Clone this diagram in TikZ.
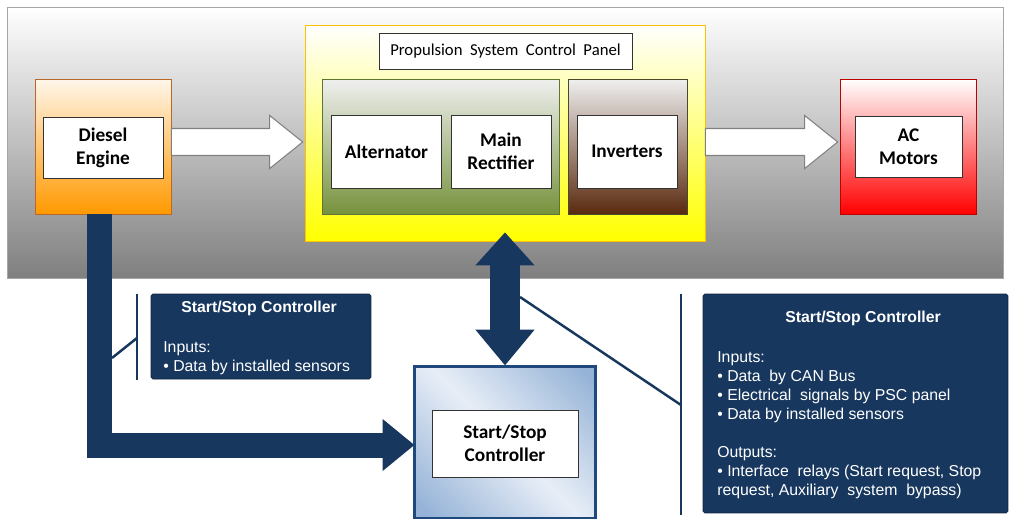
\documentclass[tikz,border=0pt]{standalone}
\usepackage{fontspec}
\setmainfont{Carlito}
\newfontfamily\notefont{Liberation Sans}
\usetikzlibrary{arrows.meta}
\usetikzlibrary{calc}

\definecolor{navy}{HTML}{17375E}
\definecolor{navyline}{HTML}{10263F}
\definecolor{ctrlborder}{HTML}{1F497D}
\definecolor{ctrldark}{HTML}{95B3D7}
\definecolor{ctrllight}{HTML}{E8EEF7}
\definecolor{orangebot}{HTML}{FF9900}
\definecolor{orangetop}{HTML}{FFF6EA}
\definecolor{orangeline}{HTML}{B8692A}
\definecolor{greenbot}{HTML}{76923C}
\definecolor{greenline}{HTML}{5E7432}
\definecolor{brownbot}{HTML}{5A2A0F}
\definecolor{brownline}{HTML}{4A4A2A}
\definecolor{panelline}{HTML}{FFC000}

\pgfdeclarehorizontalshading{ctrlshade}{100bp}{color(0bp)=(ctrldark); color(18bp)=(ctrldark); color(50bp)=(ctrllight); color(82bp)=(ctrldark); color(100bp)=(ctrldark)}

\begin{document}
\begin{tikzpicture}[x=0.02cm,y=-0.02cm,
  boxlabel/.style={draw=black!80,fill=white,inner sep=0pt,align=center,font=\bfseries\fontsize{11}{13}\selectfont},
  unitbox/.style={inner sep=0pt,minimum width=#1},
  bigarrow/.style={draw=black!50,fill=white,line width=0.6pt,
    to path={($(\tikztostart)+(0,-13.5)$) -- ($(\tikztotarget)+(-33,-13.5)$) -- ($(\tikztotarget)+(-33,-26.5)$) -- (\tikztotarget) -- ($(\tikztotarget)+(-33,26.5)$) -- ($(\tikztotarget)+(-33,13.5)$) -- ($(\tikztostart)+(0,13.5)$) -- cycle}},
  navyarrow/.style={draw=navy,line join=miter},
  notebracket/.style={draw=navy,line width=1.4pt},
  notebox/.style={draw=navyline,fill=navy,rounded corners=1pt,inner sep=0pt},
  notetitle/.style={text=white,inner sep=0pt,font=\notefont\bfseries\fontsize{9}{10.8}\selectfont},
  notebody/.style={text=white,align=left,inner sep=0pt,font=\notefont\fontsize{9}{10.8}\selectfont}]

\useasboundingbox (0,0) rectangle (1009,522);

% background
\node[inner sep=0pt,minimum width=19.92cm,minimum height=5.42cm,draw=black!35,top color=white,bottom color=black!50] (bg) at (505,142.5) {};

% engine
\node[unitbox=2.72cm,minimum height=2.70cm,draw=orangeline,top color=orangetop,bottom color=orangebot] (diesel) at (103,146.5) {};
\node[boxlabel,minimum width=2.40cm,minimum height=1.22cm] (dieselin) at (103,147.5) {Diesel\\Engine};

% control panel
\node[unitbox=8.0cm,minimum height=4.32cm,draw=panelline,top color=white,bottom color=yellow] (panel) at (505,133) {};
\node[draw=black!80,fill=white,inner sep=0pt,minimum width=5.06cm,minimum height=0.72cm,font=\fontsize{9.5}{11}\selectfont] (ptitle) at (505.5,51) {Propulsion\ \ System\ \ Control\ \ Panel};

\node[unitbox=4.74cm,minimum height=2.70cm,draw=greenline,top color=white!94!black,bottom color=greenbot] (gen) at (441,146.5) {};
\node[boxlabel,minimum width=2.20cm,minimum height=1.46cm] (alt) at (386.5,151.5) {Alternator};
\node[boxlabel,minimum width=2.00cm,minimum height=1.46cm] (rect) at (501,151.5) {Main\\Rectifier};

\node[unitbox=2.38cm,minimum height=2.70cm,draw=brownline,top color=white!94!black,bottom color=brownbot] (invgrp) at (627.5,146.5) {};
\node[boxlabel,minimum width=2.00cm,minimum height=1.46cm] (inv) at (627,151.5) {Inverters};

% motors
\node[unitbox=2.72cm,minimum height=2.70cm,draw=red!75!black,top color=white,bottom color=red] (motors) at (908,146.5) {};
\node[boxlabel,minimum width=2.14cm,minimum height=1.22cm] (motin) at (908.5,146.5) {AC\\Motors};

% controller
\node[unitbox=3.64cm,minimum height=3.04cm,draw=ctrlborder,line width=1.7pt,shading=ctrlshade,shading angle=45] (ctrl) at (505,442) {};
\node[boxlabel,minimum width=2.92cm,minimum height=1.34cm] (ctrlin) at (505,443.5) {Start/Stop\\Controller};

% power flow
\coordinate (dstart) at ($(diesel.east)+(0,-4.5)$);
\coordinate (dtip) at ($(diesel.east -| panel.west)+(-2,-4.5)$);
\coordinate (mstart) at ($(panel.east |- motors.west)+(0,-4.5)$);
\coordinate (mtip) at ($(motors.west)+(-2,-4.5)$);
\draw[bigarrow] (dstart) to (dtip);
\draw[bigarrow] (mstart) to (mtip);

% signals
\draw[navyarrow,line width=0.5cm,-{Triangle[length=0.64cm,width=1cm]}] ($(diesel.south)+(-3.5,0)$) |- ($(ctrl.west)+(2,3)$);
\draw[navyarrow,line width=0.6cm,{Triangle[length=0.66cm,width=1.14cm]}-{Triangle[length=0.72cm,width=1.14cm]}] ($(panel.south)+(0,-9)$) -- ($(ctrl.north)+(0,1)$);

% notes
\node[notebox,minimum width=4.40cm,minimum height=1.70cm] (lnote) at (261,336.5) {};
\node[notetitle] (ltitle) at (259,308) {Start/Stop Controller};
\node[notebody,anchor=north west] (lbody) at (163,341) {Inputs:\\\textbullet{} Data by installed sensors};

\node[notebox,minimum width=6.10cm,minimum height=4.38cm] (rnote) at (855.5,403.5) {};
\node[notetitle] (rtitle) at (863,318) {Start/Stop Controller};
\node[notebody,anchor=north west] (rbody) at (717,351) {Inputs:\\\textbullet{} Data\ \ by CAN Bus\\\textbullet{} Electrical\ \ signals by PSC panel\\\textbullet{} Data by installed sensors\\[0.38cm]Outputs:\\\textbullet{} Interface\ \ relays\ (Start request,\ Stop\\request,\ Auxiliary\ \ system\ \ bypass)};

\coordinate (lbtop) at (137,294);
\coordinate (lbbot) at (137,380);
\coordinate (lbmid) at (137,338);
\coordinate (lbfoot) at (112,358);
\draw[notebracket] (lbtop) -- (lbbot);
\draw[notebracket] (lbfoot) -- (lbmid);

\coordinate (rbtop) at (681,294);
\coordinate (rbbot) at (681,515);
\coordinate (rbmid) at (681,405);
\coordinate (rbfoot) at (520,297);
\draw[notebracket] (rbtop) -- (rbbot);
\draw[notebracket] (rbfoot) -- (rbmid);

\end{tikzpicture}
\end{document}
